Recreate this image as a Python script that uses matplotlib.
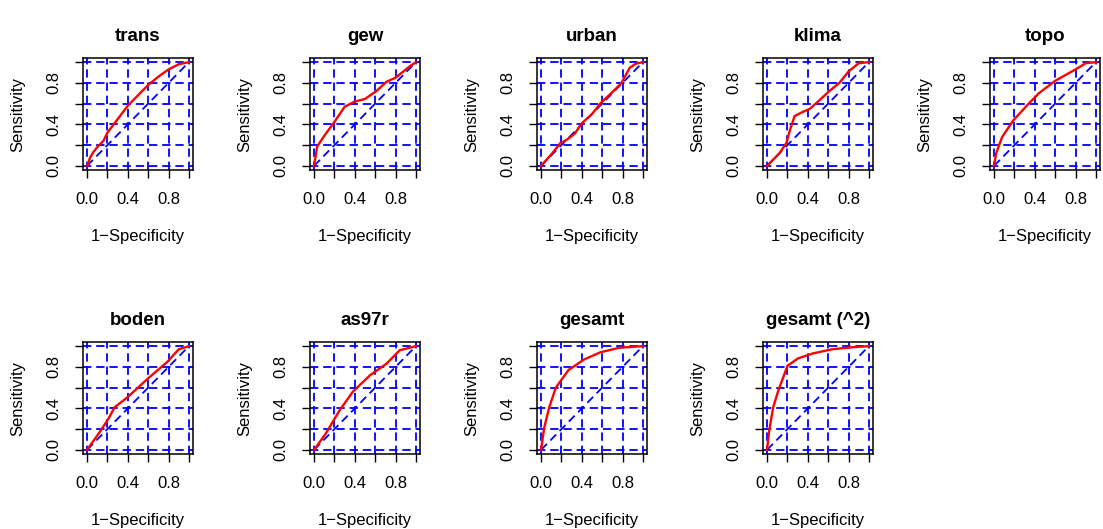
import numpy as np
import matplotlib
matplotlib.use("Agg")
import matplotlib.pyplot as plt

plt.rcParams['font.family'] = ['Liberation Sans', 'DejaVu Sans']
plt.rcParams['lines.scale_dashes'] = False

# ROC-Kurven (1-Specificity, Sensitivity)
titles = ["trans", "gew", "urban", "klima", "topo",
          "boden", "as97r", "gesamt", "gesamt (^2)"]

trans_x = [0, 0.03, 0.06, 0.1, 0.16, 0.2, 0.3, 0.4, 0.5, 0.6, 0.7, 0.8, 0.9, 1]
trans_y = [0, 0.08, 0.13, 0.18, 0.24, 0.32, 0.45, 0.58, 0.68, 0.78, 0.86, 0.93, 0.98, 1]

gew_x = [0, 0.03, 0.1, 0.19, 0.3, 0.4, 0.5, 0.61, 0.71, 0.8, 0.94, 1]
gew_y = [0, 0.185, 0.29, 0.41, 0.57, 0.62, 0.645, 0.72, 0.81, 0.85, 0.96, 1]

urban_x = [0, 0.1, 0.19, 0.25, 0.33, 0.4, 0.5, 0.59, 0.71, 0.79, 0.87, 0.93, 1]
urban_y = [0, 0.11, 0.22, 0.25, 0.31, 0.41, 0.5, 0.61, 0.72, 0.80, 0.945, 0.985, 1]

klima_x = [0, 0.12, 0.19, 0.22, 0.27, 0.35, 0.42, 0.5, 0.61, 0.71, 0.8, 0.9, 1]
klima_y = [0, 0.12, 0.22, 0.33, 0.48, 0.52, 0.55, 0.62, 0.72, 0.8, 0.91, 0.99, 1]

topo_x = [0, 0.02, 0.08, 0.19, 0.34, 0.44, 0.6, 0.8, 0.9, 1]
topo_y = [0, 0.12, 0.28, 0.44, 0.6, 0.70, 0.82, 0.93, 0.99, 1]

boden_x = [0, 0.13, 0.21, 0.27, 0.4, 0.6, 0.79, 0.9, 1]
boden_y = [0, 0.18, 0.30, 0.41, 0.51, 0.69, 0.85, 0.97, 1]

as97r_x = [0, 0.11, 0.25, 0.38, 0.55, 0.71, 0.84, 1]
as97r_y = [0, 0.15, 0.38, 0.56, 0.72, 0.83, 0.96, 1]

gesamt_x = [0, 0.03, 0.08, 0.145, 0.27, 0.42, 0.58, 0.77, 1]
gesamt_y = [0, 0.21, 0.41, 0.60, 0.77, 0.87, 0.94, 0.985, 1]

gesamt2_x = [0, 0.02, 0.06, 0.11, 0.2, 0.3, 0.45, 0.64, 0.84, 1]
gesamt2_y = [0, 0.18, 0.41, 0.57, 0.81, 0.88, 0.93, 0.97, 0.99, 1]

curves = [(trans_x, trans_y), (gew_x, gew_y), (urban_x, urban_y),
          (klima_x, klima_y), (topo_x, topo_y), (boden_x, boden_y),
          (as97r_x, as97r_y), (gesamt_x, gesamt_y), (gesamt2_x, gesamt2_y)]

grid_ticks = [0, 0.2, 0.4, 0.6, 0.8, 1.0]

W, H = 1103, 529
fig = plt.figure(figsize=(W / 100, H / 100), dpi=100)

lefts = [83, 310, 537, 763, 990]
tops = [58, 342]
bw, bh = 110, 112
dash = (6, 3.5)

for i, (t, (x, y)) in enumerate(zip(titles, curves)):
    r, c = divmod(i, 5)
    ax = fig.add_axes([lefts[c] / W, 1 - (tops[r] + bh) / H, bw / W, bh / H])
    ax.set_xlim(-0.04, 1.04)
    ax.set_ylim(-0.04, 1.04)
    # Gitter und Diagonale
    for g in grid_ticks:
        ax.axvline(g, color='blue', lw=1.3, dashes=dash)
        ax.axhline(g, color='blue', lw=1.3, dashes=dash)
    ax.plot([0, 1], [0, 1], color='blue', lw=1.3, dashes=dash)
    ax.plot(x, y, color='red', lw=1.7)
    ax.set_xticks(grid_ticks)
    ax.set_yticks(grid_ticks)
    labs = ['0.0', '', '0.4', '', '0.8', '']
    ax.set_xticklabels(labs, fontsize=12)
    ax.set_yticklabels(labs, fontsize=12, rotation=90, va='center')
    ax.tick_params(direction='out', length=5.5, width=1, pad=10)
    for s in ax.spines.values():
        s.set_linewidth(1.1)
    ax.set_title(t, fontsize=13.5, fontweight='bold', pad=12)
    ax.set_xlabel('1\u2212Specificity', fontsize=12, labelpad=16)
    ax.set_ylabel('Sensitivity', fontsize=12, labelpad=15)

fig.savefig('out.png', dpi=100)
